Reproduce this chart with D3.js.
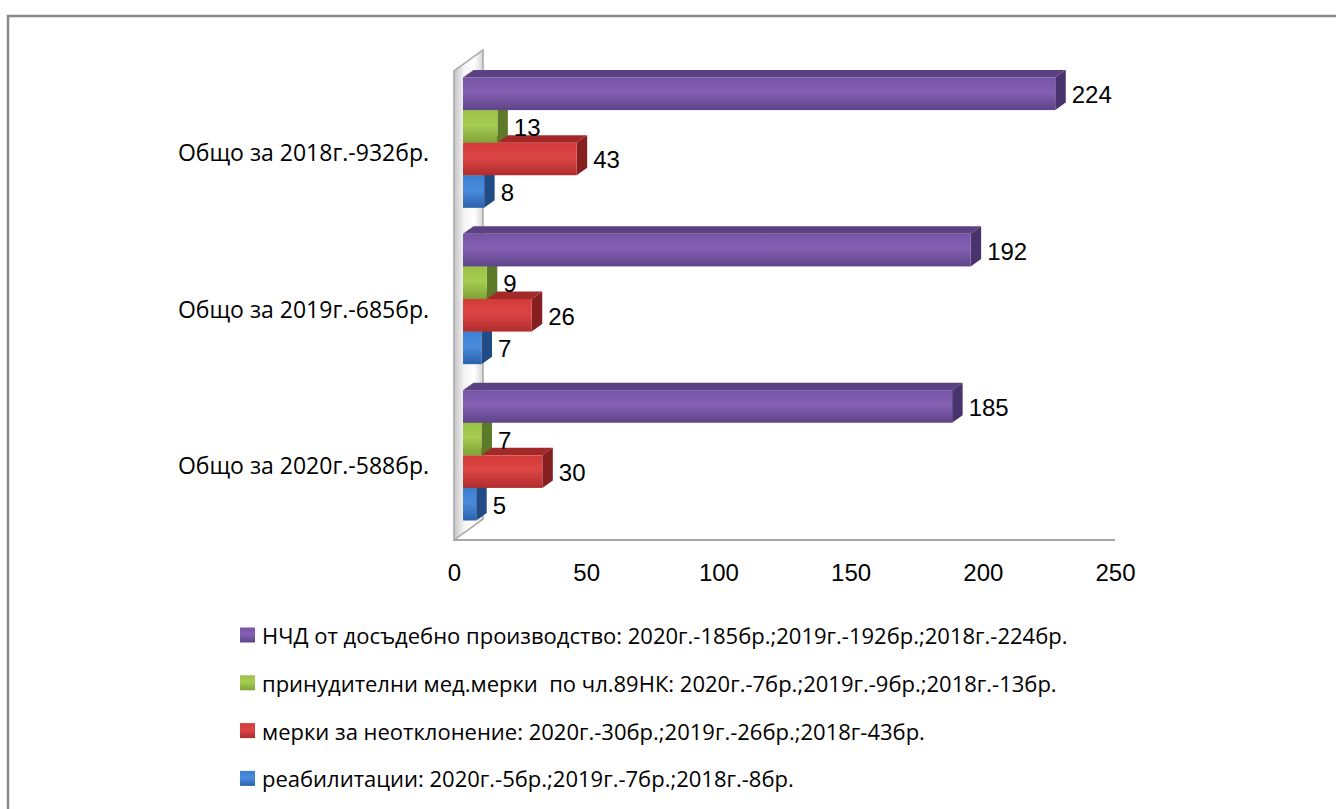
<!DOCTYPE html>
<html>
<head>
<meta charset="utf-8">
<script src="https://cdn.jsdelivr.net/npm/d3@7"></script>
<style>
  body { margin: 0; background: #fff; }
  .cat { font-family: "Open Sans", sans-serif; font-size: 23px; fill: #000; }
  .num { font-family: "Liberation Sans Narrow", "Liberation Sans", sans-serif; font-size: 24px; fill: #000; }
  .leg { font-family: "Open Sans", sans-serif; font-size: 22px; fill: #000; white-space: pre; }
</style>
</head>
<body>
<div id="vis"></div>
<script>
// categories top to bottom
var categories = ["Общо за 2018г.-932бр.", "Общо за 2019г.-685бр.", "Общо за 2020г.-588бр."];
var seriesNames = [
  "НЧД от досъдебно производство: 2020г.-185бр.;2019г.-192бр.;2018г.-224бр.",
  "принудителни мед.мерки  по чл.89НК: 2020г.-7бр.;2019г.-9бр.;2018г.-13бр.",
  "мерки за неотклонение: 2020г.-30бр.;2019г.-26бр.;2018г-43бр.",
  "реабилитации: 2020г.-5бр.;2019г.-7бр.;2018г.-8бр."
];
// values per series, in category order (2018, 2019, 2020)
var nchd = [224, 192, 185];
var medMerki = [13, 9, 7];
var merki = [43, 26, 30];
var reab = [8, 7, 5];
var xTicks = [0, 50, 100, 150, 200, 250];

var seriesValues = [nchd, medMerki, merki, reab];
// front, top, side colours
var palette = [
  {front: "#7854a6", light: "#8460b3", dark: "#5f4489", top: "#5b4181", side: "#48336c"},
  {front: "#9bc147", light: "#a6cc52", dark: "#7fa236", top: "#6f8f2e", side: "#5c7a27"},
  {front: "#d43a3a", light: "#dc4545", dark: "#b02c2c", top: "#a32929", side: "#862020"},
  {front: "#3b7ecf", light: "#4a8cdc", dark: "#2c62ad", top: "#295a9c", side: "#214b84"}
];

var width = 1336, height = 809;
var depth = {dx: 9, dy: -6.5};      // front plane -> bar front face
var barDepth = {dx: 10.5, dy: -7.5}; // bar thickness
var wallDepth = {dx: 29, dy: -21};

var svg = d3.select("#vis").append("svg")
  .attr("width", width)
  .attr("height", height);

var defs = svg.append("defs");

svg.append("rect").attr("width", width).attr("height", height).attr("fill", "#fff");

// outer border
svg.append("path")
  .attr("d", "M8," + height + "V16H" + width)
  .attr("fill", "none")
  .attr("stroke", "#8a8a8a")
  .attr("stroke-width", 2.5);

var xScale = d3.scaleLinear().domain([0, 250]).range([454, 1115]);
var yScale = d3.scaleBand().domain(categories).range([71, 540]);
var ySub = d3.scaleBand().domain(d3.range(seriesNames.length))
  .range([13, yScale.bandwidth() - 13]);

// gradients
palette.forEach(function(p, i){
  var g = defs.append("linearGradient").attr("id", "fg" + i)
    .attr("x1", 0).attr("y1", 0).attr("x2", 0).attr("y2", 1);
  g.append("stop").attr("offset", "0%").attr("stop-color", p.front);
  g.append("stop").attr("offset", "45%").attr("stop-color", p.light);
  g.append("stop").attr("offset", "100%").attr("stop-color", p.dark);
});
var wg = defs.append("linearGradient").attr("id", "wallg")
  .attr("x1", 0).attr("y1", 0).attr("x2", 1).attr("y2", 0);
wg.append("stop").attr("offset", "0%").attr("stop-color", "#c4c4c4");
wg.append("stop").attr("offset", "35%").attr("stop-color", "#f4f4f4");
wg.append("stop").attr("offset", "70%").attr("stop-color", "#ffffff");
wg.append("stop").attr("offset", "100%").attr("stop-color", "#d6d6d6");

// back wall (value 0 plane)
var x0 = xScale(0), yTop = yScale.range()[0], yBot = yScale.range()[1];
svg.append("path")
  .attr("d", "M" + x0 + "," + yBot + "L" + x0 + "," + yTop +
    "L" + (x0 + wallDepth.dx) + "," + (yTop + wallDepth.dy) +
    "L" + (x0 + wallDepth.dx) + "," + (yBot + wallDepth.dy) + "Z")
  .attr("fill", "url(#wallg)")
  .attr("stroke", "#a6a6a6")
  .attr("stroke-width", 1.5);

// floor front edge
svg.append("line")
  .attr("x1", xScale(0)).attr("x2", xScale(250))
  .attr("y1", yBot).attr("y2", yBot)
  .attr("stroke", "#a6a6a6")
  .attr("stroke-width", 2);

// bars: build list, draw bottom to top so upper bars overlap
var bars = [];
categories.forEach(function(c, ci){
  seriesValues.forEach(function(vals, si){
    bars.push({cat: c, ci: ci, si: si, value: vals[ci]});
  });
});
bars.sort(function(a, b){ return (b.ci * 10 + b.si) - (a.ci * 10 + a.si); });

var barG = svg.selectAll(".bar").data(bars).enter()
  .append("g").attr("class", "bar");

function geom(d){
  var xa = xScale(0) + depth.dx;
  var xb = xScale(d.value) + depth.dx;
  var ya = yScale(d.cat) + ySub(d.si) + depth.dy;
  var yb = ya + ySub.bandwidth();
  return {xa: xa, xb: xb, ya: ya, yb: yb};
}

barG.append("path") // top face
  .attr("d", function(d){
    var g = geom(d);
    return "M" + g.xa + "," + g.ya + "L" + g.xb + "," + g.ya +
      "L" + (g.xb + barDepth.dx) + "," + (g.ya + barDepth.dy) +
      "L" + (g.xa + barDepth.dx) + "," + (g.ya + barDepth.dy) + "Z";
  })
  .attr("fill", function(d){ return palette[d.si].top; });

barG.append("path") // right end face
  .attr("d", function(d){
    var g = geom(d);
    return "M" + g.xb + "," + g.ya +
      "L" + (g.xb + barDepth.dx) + "," + (g.ya + barDepth.dy) +
      "L" + (g.xb + barDepth.dx) + "," + (g.yb + barDepth.dy) +
      "L" + g.xb + "," + g.yb + "Z";
  })
  .attr("fill", function(d){ return palette[d.si].side; });

barG.append("rect") // front face
  .attr("x", function(d){ return geom(d).xa; })
  .attr("y", function(d){ return geom(d).ya; })
  .attr("width", function(d){ return geom(d).xb - geom(d).xa; })
  .attr("height", ySub.bandwidth())
  .attr("fill", function(d, i){ return "url(#fg" + d.si + ")"; });

// value labels
svg.selectAll(".val").data(bars).enter()
  .append("text")
  .attr("class", "num")
  .attr("x", function(d){ return geom(d).xb + barDepth.dx + 6; })
  .attr("y", function(d){ var g = geom(d); return (g.ya + g.yb) / 2 + 1; })
  .attr("dominant-baseline", "central")
  .text(function(d){ return d.value; });

// category labels
svg.selectAll(".cat").data(categories).enter()
  .append("text")
  .attr("class", "cat")
  .attr("x", 429)
  .attr("y", function(d){ return yScale(d) + yScale.bandwidth() / 2 + 3; })
  .attr("text-anchor", "end")
  .attr("dominant-baseline", "central")
  .text(function(d){ return d; });

// X axis
var xAxis = svg.append("g")
  .attr("transform", "translate(0," + yBot + ")")
  .call(d3.axisBottom(xScale).tickValues(xTicks).tickSize(0).tickFormat(d3.format("d")));
xAxis.select(".domain").remove();
xAxis.selectAll("text")
  .attr("class", "num")
  .attr("y", 32)
  .attr("dy", 0)
  .attr("dominant-baseline", "central")
  .attr("font-family", null)
  .attr("font-size", null)
  .attr("fill", null);
xAxis.attr("font-family", null).attr("font-size", null);

// legend
var legend = svg.selectAll(".legItem").data(seriesNames).enter()
  .append("g")
  .attr("class", "legItem")
  .attr("transform", function(d, i){ return "translate(240," + (635 + i * 47.8) + ")"; });

legend.append("rect")
  .attr("x", 0).attr("y", -7.5)
  .attr("width", 15).attr("height", 15)
  .attr("fill", function(d, i){ return "url(#fg" + i + ")"; });

legend.append("text")
  .attr("class", "leg")
  .attr("x", 22)
  .attr("y", 0)
  .attr("dominant-baseline", "central")
  .text(function(d){ return d; });
</script>
</body>
</html>
